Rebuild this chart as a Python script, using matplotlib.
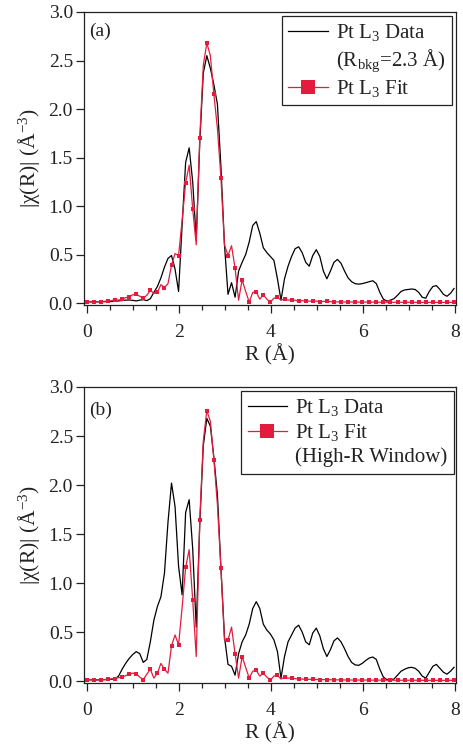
import numpy as np
import matplotlib
matplotlib.use('Agg')
import matplotlib.pyplot as plt
from matplotlib.lines import Line2D

plt.rcParams['font.family'] = ['Liberation Serif', 'DejaVu Serif']
plt.rcParams['mathtext.fontset'] = 'custom'
plt.rcParams['mathtext.rm'] = 'Liberation Serif'
plt.rcParams['mathtext.it'] = 'Liberation Serif:italic'

# R grid (Angstrom), 105 samples
dR = 0.0767
r = np.round(np.arange(105) * dR, 4)

top_data = [0.012, 0.012, 0.012, 0.013, 0.013, 0.014, 0.015, 0.016, 0.018, 0.022,
            0.026, 0.030, 0.032, 0.028, 0.022, 0.030, 0.035, 0.025, 0.045, 0.110,
            0.170, 0.260, 0.370, 0.460, 0.490, 0.350, 0.120, 0.800, 1.450, 1.600,
            1.250, 0.660, 1.650, 2.370, 2.550, 2.420, 2.250, 2.050, 1.400, 0.600,
            0.090, 0.210, 0.060, 0.330, 0.420, 0.500, 0.630, 0.800, 0.840, 0.720,
            0.570, 0.520, 0.480, 0.440, 0.250, 0.030, 0.250, 0.380, 0.480, 0.560,
            0.580, 0.520, 0.420, 0.380, 0.490, 0.550, 0.480, 0.330, 0.250, 0.330,
            0.420, 0.450, 0.410, 0.330, 0.260, 0.220, 0.200, 0.195, 0.200, 0.210,
            0.220, 0.230, 0.200, 0.110, 0.040, 0.020, 0.030, 0.045, 0.080, 0.120,
            0.135, 0.140, 0.145, 0.140, 0.110, 0.060, 0.050, 0.120, 0.170, 0.180,
            0.140, 0.090, 0.070, 0.100, 0.150]

top_fit = [0.015, 0.015, 0.015, 0.013, 0.016, 0.018, 0.020, 0.025, 0.035, 0.030,
           0.040, 0.055, 0.065, 0.085, 0.090, 0.070, 0.050, 0.080, 0.130, 0.100,
           0.110, 0.190, 0.160, 0.200, 0.390, 0.510, 0.490, 0.850, 1.240, 1.420,
           0.970, 0.600, 1.700, 2.450, 2.680, 2.550, 2.150, 1.800, 1.290, 0.600,
           0.490, 0.590, 0.360, 0.030, 0.240, 0.120, 0.010, 0.110, 0.115, 0.040,
           0.085, 0.040, 0.010, 0.050, 0.060, 0.030, 0.045, 0.030, 0.035, 0.030,
           0.020, 0.025, 0.018, 0.020, 0.018, 0.020, 0.015, 0.016, 0.020, 0.014,
           0.012, 0.012, 0.013, 0.011, 0.010, 0.011, 0.010, 0.010, 0.009, 0.010,
           0.009, 0.010, 0.009, 0.008, 0.009, 0.008, 0.009, 0.008, 0.008, 0.008,
           0.008, 0.008, 0.008, 0.007, 0.008, 0.007, 0.008, 0.007, 0.007, 0.007,
           0.007, 0.007, 0.007, 0.007, 0.007]

bot_data = [0.012, 0.012, 0.012, 0.012, 0.013, 0.014, 0.016, 0.018, 0.022, 0.050,
            0.120, 0.180, 0.230, 0.270, 0.300, 0.280, 0.190, 0.220, 0.400, 0.620,
            0.760, 0.860, 1.100, 1.620, 2.020, 1.780, 1.170, 0.880, 1.720, 1.850,
            1.350, 0.550, 1.600, 2.400, 2.680, 2.600, 2.280, 1.900, 1.150, 0.450,
            0.170, 0.150, 0.060, 0.280, 0.400, 0.470, 0.580, 0.740, 0.810, 0.740,
            0.580, 0.520, 0.480, 0.420, 0.300, 0.030, 0.250, 0.400, 0.470, 0.540,
            0.570, 0.500, 0.400, 0.370, 0.490, 0.540, 0.460, 0.330, 0.250, 0.320,
            0.410, 0.440, 0.400, 0.330, 0.250, 0.190, 0.165, 0.160, 0.180, 0.210,
            0.235, 0.245, 0.220, 0.120, 0.040, 0.015, 0.015, 0.020, 0.060, 0.100,
            0.120, 0.135, 0.140, 0.130, 0.100, 0.050, 0.030, 0.090, 0.150, 0.170,
            0.130, 0.090, 0.070, 0.100, 0.140]

bot_fit = [0.015, 0.015, 0.012, 0.010, 0.012, 0.015, 0.018, 0.022, 0.025, 0.035,
           0.040, 0.055, 0.070, 0.080, 0.075, 0.040, 0.015, 0.070, 0.120, 0.030,
           0.080, 0.180, 0.120, 0.080, 0.360, 0.470, 0.370, 0.750, 1.160, 1.340,
           0.830, 0.250, 1.640, 2.450, 2.760, 2.650, 2.260, 1.800, 1.150, 0.420,
           0.420, 0.550, 0.280, 0.030, 0.250, 0.140, 0.030, 0.100, 0.110, 0.050,
           0.080, 0.040, 0.010, 0.050, 0.060, 0.020, 0.040, 0.030, 0.030, 0.025,
           0.020, 0.020, 0.018, 0.018, 0.016, 0.016, 0.015, 0.014, 0.014, 0.013,
           0.012, 0.012, 0.012, 0.011, 0.011, 0.010, 0.010, 0.010, 0.010, 0.010,
           0.009, 0.009, 0.009, 0.009, 0.009, 0.008, 0.008, 0.008, 0.008, 0.008,
           0.008, 0.008, 0.008, 0.008, 0.008, 0.007, 0.007, 0.007, 0.007, 0.007,
           0.007, 0.007, 0.007, 0.007, 0.007]

x_ticks = [0, 2, 4, 6, 8]
y_ticks = [0.0, 0.5, 1.0, 1.5, 2.0, 2.5, 3.0]

RED = '#e31c3d'
TXT = '#222222'
FS_TICK = 14
FS_LAB = 15.5
FS_LEG = 15

fig = plt.figure(figsize=(4.63, 7.47), dpi=100)
ax1 = fig.add_axes([84/463, 442/747, 372/463, 293/747])
ax2 = fig.add_axes([84/463, 64/747, 372/463, 296/747])

panels = [
    (ax1, top_data, top_fit, '(a)', 0.962,
     [r'Pt L$_3$ Data', r'(R$_{\mathrm{bkg}}$=2.3 Å)', r'Pt L$_3$ Fit'],
     ['data', 'blank', 'fit'], (0.989, 0.986)),
    (ax2, bot_data, bot_fit, '(b)', 0.952,
     [r'Pt L$_3$ Data', r'Pt L$_3$ Fit', '(High-R Window)'],
     ['data', 'fit', 'blank'], (0.9946, 0.9865)),
]

for ax, dat, fit, lab, laby, leg_labels, leg_kinds, anchor in panels:
    ax.plot(r, dat, color='black', lw=0.9, zorder=2)
    ax.plot(r, fit, color=RED, lw=0.9, marker='s', markersize=2.6,
            markevery=2, markeredgewidth=0, zorder=3)
    ax.set_xlim(-0.06, 8.02)
    ax.set_ylim(-0.02, 3.0)
    ax.set_xticks(x_ticks)
    ax.set_xticks(np.arange(0, 8.01, 0.5), minor=True)
    ax.set_yticks(y_ticks)
    ax.set_yticklabels([f'{v:.1f}' for v in y_ticks])
    ax.tick_params(axis='both', which='major', direction='out', length=6,
                   width=0.9, labelsize=FS_TICK, colors=TXT, top=False, right=False)
    ax.tick_params(axis='x', which='major', pad=7.5)
    ax.tick_params(axis='y', which='major', pad=2)
    ax.tick_params(axis='x', which='minor', direction='out', length=3.5,
                   width=0.9, colors=TXT, top=False)
    for s in ax.spines.values():
        s.set_color(TXT)
        s.set_linewidth(0.9)
    ax.set_xlabel('R (Å)', fontsize=FS_LAB, color=TXT, labelpad=2.5)
    ax.set_ylabel(r'|χ(R)| (Å$^{-3}$)', fontsize=FS_LAB, color=TXT, labelpad=5)
    ax.text(0.015, laby, lab, transform=ax.transAxes,
            fontsize=FS_TICK, color=TXT, ha='left', va='top')

    handles = []
    for k in leg_kinds:
        if k == 'data':
            handles.append(Line2D([], [], color='black', lw=0.9))
        elif k == 'fit':
            handles.append(Line2D([], [], color=RED, lw=0.9, marker='s',
                                  markersize=10, markeredgewidth=0))
        else:
            handles.append(Line2D([], [], linestyle='none', marker=None))
    leg = ax.legend(handles, leg_labels, loc='upper right', bbox_to_anchor=anchor,
                    borderaxespad=0, fontsize=FS_LEG, frameon=True, fancybox=False,
                    edgecolor=TXT, framealpha=1, handlelength=1.9,
                    handletextpad=0.4, labelspacing=0.2, borderpad=0.3,
                    labelcolor=TXT)
    leg.get_frame().set_linewidth(0.9)

fig.savefig('out.png', dpi=100)
